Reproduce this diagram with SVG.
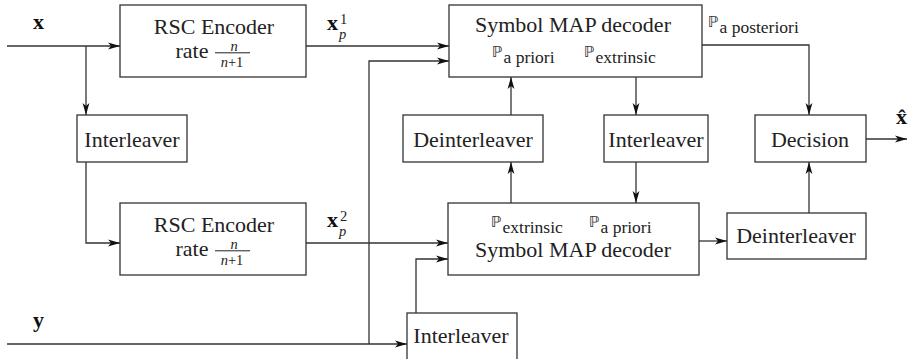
<svg xmlns="http://www.w3.org/2000/svg" width="908" height="359" viewBox="0 0 908 359">
<defs>
<marker id="arr" viewBox="0 0 12 8" refX="12" refY="4" markerWidth="12" markerHeight="8" markerUnits="userSpaceOnUse" orient="auto">
<path d="M0,0.6 L12,4 L0,7.4 L3,4 z" fill="#111"/>
</marker>
<style>
.box{fill:#fff;stroke:#333;stroke-width:1.3}
.t{font-family:"Liberation Serif","DejaVu Serif",serif;font-size:22px;fill:#222;text-anchor:middle}
.s{font-family:"Liberation Serif","DejaVu Serif",serif;font-size:14.5px;font-weight:normal;fill:#222}
.f{font-family:"Liberation Serif","DejaVu Serif",serif;font-size:14.5px;fill:#222;text-anchor:middle}
.sub{font-family:"Liberation Serif","DejaVu Serif",serif;font-size:17.5px;fill:#222}
.i{font-style:italic}
.b{font-family:"Liberation Serif","DejaVu Serif",serif;font-weight:bold;font-size:22px;fill:#111}
.bb{font-family:"DejaVu Sans","DejaVu Serif",sans-serif;font-size:15px;fill:#333}
.c{fill:none;stroke:#333;stroke-width:1.3}
.a{marker-end:url(#arr)}
</style>
</defs>
<g id="connectors">
<path class="c a" d="M7,46 H120"/>
<path class="c a" d="M86,46 V115"/>
<path class="c a" d="M86,162 V243 H120"/>
<path class="c a" d="M306,46 H449"/>
<path class="c a" d="M306,243 H448"/>
<path class="c a" d="M7,344 H407"/>
<path class="c a" d="M369,344 V61 H449"/>
<path class="c a" d="M416,313 V259 H448"/>
<path class="c a" d="M511,115 V77"/>
<path class="c a" d="M511,203 V162"/>
<path class="c a" d="M636,77 V115"/>
<path class="c a" d="M636,162 V203"/>
<path class="c a" d="M702,45 H809 V115"/>
<path class="c a" d="M699,241 H727"/>
<path class="c a" d="M809,213 V162"/>
<path class="c a" d="M866,139 H907"/>
</g>
<g id="labels">
<text class="b" x="33" y="29">x</text>
<text class="b" x="33" y="327">y</text>
<g id="xp1"><text class="b" x="327" y="30">x</text><text class="s" x="340" y="24">1</text><text class="s i" x="339" y="38.5">p</text></g>
<g id="xp2"><text class="b" x="327" y="227">x</text><text class="s" x="340" y="221">2</text><text class="s i" x="339" y="235.5">p</text></g>
<text class="b" x="896" y="124">x̂</text>
<g id="ppost"><text class="bb" x="708" y="27">ℙ<tspan class="sub" dx="1" dy="6">a posteriori</tspan></text></g>
</g>
<g id="enc1">
<rect class="box" x="120" y="5" width="186" height="72"/>
<text class="t" x="214" y="34">RSC Encoder</text>
<text class="t" x="192" y="58">rate</text>
<text class="f i" x="234" y="50.5">n</text>
<line x1="215" y1="52.8" x2="250" y2="52.8" stroke="#222" stroke-width="1"/>
<text class="f" x="232" y="66.5"><tspan class="i">n</tspan>+1</text>
</g>
<g id="enc2">
<rect class="box" x="120" y="203" width="186" height="72"/>
<text class="t" x="214" y="232">RSC Encoder</text>
<text class="t" x="192" y="256">rate</text>
<text class="f i" x="234" y="248.5">n</text>
<line x1="215" y1="250.8" x2="250" y2="250.8" stroke="#222" stroke-width="1"/>
<text class="f" x="232" y="264.5"><tspan class="i">n</tspan>+1</text>
</g>
<g id="int1">
<rect class="box" x="77" y="115" width="110" height="47"/>
<text class="t" x="132" y="147">Interleaver</text>
</g>
<g id="dec1">
<rect class="box" x="449" y="5" width="253" height="72"/>
<text class="t" x="573" y="32">Symbol MAP decoder</text>
<text class="bb" x="492" y="57">ℙ<tspan class="sub" dx="1" dy="6">a priori</tspan></text>
<text class="bb" x="584" y="57">ℙ<tspan class="sub" dx="1" dy="6">extrinsic</tspan></text>
</g>
<g id="deint1">
<rect class="box" x="403" y="115" width="140" height="47"/>
<text class="t" x="473" y="147">Deinterleaver</text>
</g>
<g id="int2">
<rect class="box" x="604" y="115" width="104" height="47"/>
<text class="t" x="656" y="147">Interleaver</text>
</g>
<g id="decision">
<rect class="box" x="755" y="115" width="111" height="47"/>
<text class="t" x="810" y="147">Decision</text>
</g>
<g id="dec2">
<rect class="box" x="448" y="203" width="251" height="72"/>
<text class="bb" x="491" y="227">ℙ<tspan class="sub" dx="1" dy="6">extrinsic</tspan></text>
<text class="bb" x="589" y="227">ℙ<tspan class="sub" dx="1" dy="6">a priori</tspan></text>
<text class="t" x="573" y="257">Symbol MAP decoder</text>
</g>
<g id="deint2">
<rect class="box" x="727" y="213" width="139" height="46"/>
<text class="t" x="796" y="243">Deinterleaver</text>
</g>
<g id="int3">
<rect class="box" x="407" y="313" width="110" height="60"/>
<text class="t" x="461" y="343">Interleaver</text>
</g>
</svg>
